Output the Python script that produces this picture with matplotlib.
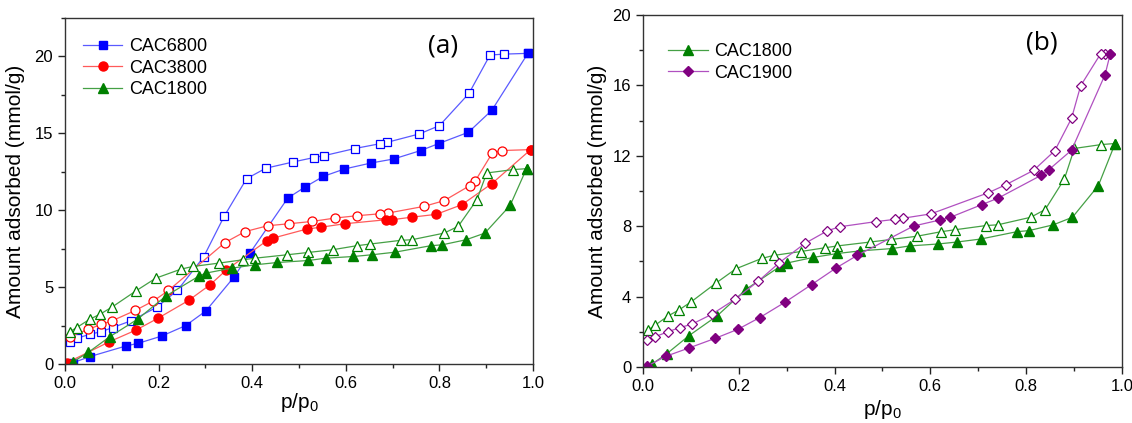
import matplotlib.pyplot as plt
from matplotlib.ticker import MultipleLocator

plt.rcParams['font.family'] = ['Liberation Sans', 'DejaVu Sans']
plt.rcParams['mathtext.default'] = 'regular'

# CAC6800 isotherm
p6800_ads = [0.018, 0.053, 0.13, 0.157, 0.207, 0.258, 0.301, 0.361, 0.395, 0.476,
             0.513, 0.552, 0.597, 0.654, 0.702, 0.760, 0.798, 0.862, 0.912, 0.989]
q6800_ads = [0.09, 0.48, 1.17, 1.35, 1.82, 2.50, 3.45, 5.65, 7.21, 10.79,
             11.51, 12.20, 12.68, 13.07, 13.33, 13.88, 14.33, 15.07, 16.50, 20.2]
p6800_des = [0.989, 0.938, 0.908, 0.863, 0.800, 0.757, 0.689, 0.674, 0.619, 0.554,
             0.531, 0.488, 0.429, 0.388, 0.340, 0.296, 0.240, 0.196, 0.142, 0.102,
             0.078, 0.053, 0.025, 0.011]
q6800_des = [20.2, 20.15, 20.09, 17.59, 15.50, 14.96, 14.42, 14.33, 14.01, 13.55,
             13.42, 13.14, 12.73, 12.05, 9.60, 6.95, 4.78, 3.69, 2.82, 2.37,
             2.11, 1.93, 1.67, 1.45]

# CAC3800 isotherm
p3800_ads = [0.005, 0.095, 0.152, 0.199, 0.264, 0.310, 0.345, 0.431, 0.445, 0.516,
             0.548, 0.598, 0.686, 0.698, 0.742, 0.793, 0.848, 0.912, 0.995]
q3800_ads = [0.09, 1.45, 2.21, 2.98, 4.13, 5.15, 6.12, 8.01, 8.19, 8.77,
             8.90, 9.12, 9.38, 9.38, 9.55, 9.73, 10.36, 11.73, 13.94]
p3800_des = [0.995, 0.933, 0.913, 0.876, 0.865, 0.810, 0.767, 0.691, 0.674, 0.623,
             0.577, 0.528, 0.479, 0.433, 0.385, 0.342, 0.221, 0.189, 0.150, 0.100,
             0.078, 0.050, 0.011]
q3800_des = [13.94, 13.88, 13.72, 11.88, 11.60, 10.62, 10.25, 9.82, 9.77, 9.64,
             9.49, 9.27, 9.12, 8.99, 8.61, 7.90, 4.78, 4.10, 3.48, 2.80,
             2.58, 2.26, 1.78]

# CAC1800 isotherm
p1800_ads = [0.018, 0.050, 0.096, 0.155, 0.216, 0.287, 0.301, 0.356, 0.406, 0.454,
             0.520, 0.557, 0.616, 0.655, 0.705, 0.781, 0.806, 0.857, 0.897, 0.951, 0.986]
q1800_ads = [0.15, 0.76, 1.78, 2.91, 4.43, 5.73, 5.91, 6.23, 6.45, 6.60,
             6.73, 6.88, 6.99, 7.10, 7.27, 7.69, 7.75, 8.08, 8.51, 10.31, 12.70]
p1800_des = [0.986, 0.957, 0.901, 0.880, 0.840, 0.810, 0.741, 0.717, 0.652, 0.623,
             0.572, 0.519, 0.474, 0.406, 0.381, 0.329, 0.273, 0.248, 0.194, 0.152,
             0.100, 0.075, 0.053, 0.025, 0.011]
q1800_des = [12.70, 12.64, 12.42, 10.68, 8.95, 8.51, 8.08, 8.04, 7.80, 7.69,
             7.43, 7.25, 7.10, 6.88, 6.78, 6.56, 6.34, 6.17, 5.58, 4.76,
             3.69, 3.24, 2.91, 2.37, 2.11]

# CAC1900 isotherm
p1900_ads = [0.008, 0.048, 0.097, 0.151, 0.198, 0.244, 0.296, 0.352, 0.404, 0.448,
             0.565, 0.621, 0.642, 0.707, 0.742, 0.832, 0.848, 0.895, 0.965, 0.976]
q1900_ads = [0.04, 0.61, 1.09, 1.63, 2.14, 2.81, 3.67, 4.68, 5.64, 6.35,
             8.01, 8.36, 8.51, 9.22, 9.60, 10.90, 11.22, 12.32, 16.61, 17.81]
p1900_des = [0.976, 0.965, 0.956, 0.914, 0.895, 0.860, 0.816, 0.758, 0.721, 0.601,
             0.542, 0.526, 0.486, 0.411, 0.385, 0.338, 0.284, 0.241, 0.193, 0.144,
             0.102, 0.077, 0.053, 0.025, 0.008]
q1900_des = [17.81, 17.81, 17.81, 15.98, 14.13, 12.29, 11.18, 10.36, 9.90, 8.70,
             8.45, 8.39, 8.26, 7.97, 7.74, 7.02, 5.91, 4.88, 3.86, 3.00,
             2.43, 2.24, 2.01, 1.72, 1.51]


def isotherm(ax, pa, qa, pd, qd, color, line, marker, ms, label):
    # desorption branch: open markers
    ax.plot(pd, qd, color=line, lw=0.9, marker=marker, ms=ms,
            mfc='white', mec=color, mew=0.9)
    # adsorption branch: filled markers
    ax.plot(pa, qa, color=line, lw=0.9, marker=marker, ms=ms,
            mfc=color, mec=color, label=label)


def style(ax, ymax, major, minor):
    ax.set_xlim(0, 1.0)
    ax.set_ylim(0, ymax)
    ax.xaxis.set_major_locator(MultipleLocator(0.2))
    ax.xaxis.set_minor_locator(MultipleLocator(0.1))
    ax.yaxis.set_major_locator(MultipleLocator(major))
    ax.yaxis.set_minor_locator(MultipleLocator(minor))
    ax.xaxis.set_major_formatter(plt.FormatStrFormatter('%.1f'))
    ax.tick_params(which='both', direction='out', top=False, right=False,
                   labelsize=12, color='#222222')
    ax.tick_params(which='major', length=5, width=1)
    ax.tick_params(which='minor', length=3, width=1)
    for s in ax.spines.values():
        s.set_linewidth(1.0)
        s.set_color('#333333')
    ax.set_ylabel('Amount adsorbed (mmol/g)', fontsize=15)


fig = plt.figure(figsize=(11.32, 4.23), dpi=100)
ax1 = fig.add_axes([0.0574, 0.1395, 0.4135, 0.818])
ax2 = fig.add_axes([0.568, 0.1324, 0.423, 0.832])

isotherm(ax1, p6800_ads, q6800_ads, p6800_des, q6800_des,
         '#0000FF', '#5a5aff', 's', 5.5, 'CAC6800')
isotherm(ax1, p3800_ads, q3800_ads, p3800_des, q3800_des,
         '#FF0000', '#ff5a5a', 'o', 6.5, 'CAC3800')
isotherm(ax1, p1800_ads, q1800_ads, p1800_des, q1800_des,
         '#008000', '#45a045', '^', 7, 'CAC1800')
style(ax1, 22.5, 5, 2.5)
ax1.set_xlabel('p/p$_0$', fontsize=15, labelpad=0)
ax1.yaxis.set_label_coords(-0.085, 0.5)
ax1.text(0.808, 0.919, '(a)', transform=ax1.transAxes, fontsize=19,
         family='Open Sans', ha='center', va='center')
ax1.legend(loc='upper left', bbox_to_anchor=(0.038, 0.942), frameon=False,
           fontsize=13, borderpad=0, borderaxespad=0, handlelength=2.2,
           handletextpad=0.35, labelspacing=0.25)

isotherm(ax2, p1800_ads, q1800_ads, p1800_des, q1800_des,
         '#008000', '#45a045', '^', 7, 'CAC1800')
isotherm(ax2, p1900_ads, q1900_ads, p1900_des, q1900_des,
         '#800080', '#b050c0', 'D', 5.5, 'CAC1900')
style(ax2, 20, 4, 2)
ax2.set_xlabel('p/p$_0$', fontsize=15, labelpad=3)
ax2.yaxis.set_label_coords(-0.075, 0.5)
ax2.text(0.833, 0.92, '(b)', transform=ax2.transAxes, fontsize=19,
         family='Open Sans', ha='center', va='center')
ax2.legend(loc='upper left', bbox_to_anchor=(0.052, 0.92), frameon=False,
           fontsize=13, borderpad=0, borderaxespad=0, handlelength=2.2,
           handletextpad=0.35, labelspacing=0.25)

fig.savefig('out.png', dpi=100)
